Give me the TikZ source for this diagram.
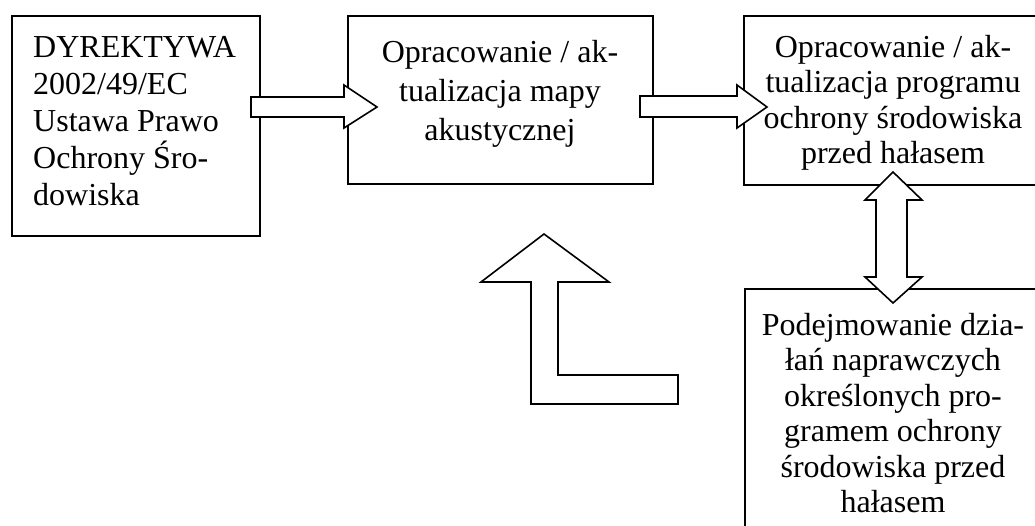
\documentclass[tikz,border=0pt]{standalone}
\usepackage{fontspec}
\setmainfont{Liberation Serif}
\begin{document}
\begin{tikzpicture}[x=1pt,y=-1pt,
  box/.style={draw, line width=1.6pt, inner sep=0pt, anchor=north west},
  txt/.style={inner sep=0pt, align=center, anchor=north},
  blockarrow/.style={draw, fill=white, line width=1.6pt, line join=miter}]
\useasboundingbox (0,0) rectangle (1035,525);
\clip (0,0) rectangle (1035,525);
\fill[white] (0,0) rectangle (1035,525);
% boxes
\node[box, minimum width=248pt, minimum height=220pt] (b1) at (11,15) {};
\node[box, minimum width=305pt, minimum height=168pt] (b2) at (347,15) {};
\node[box, minimum width=330pt, minimum height=169pt] (b3) at (743,15) {};
\node[box, minimum width=330pt, minimum height=270pt] (b4) at (744,288) {};
% block arrows
\draw[blockarrow] (251,97) -- (344,97) -- (344,85) -- (377,107) -- (344,128) -- (344,117) -- (251,117) -- cycle;
\draw[blockarrow] (640,96) -- (737,96) -- (737,85) -- (767,107) -- (737,128) -- (737,117) -- (640,117) -- cycle;
\draw[blockarrow] (893,172) -- (922,200) -- (907,200) -- (907,277) -- (922,277) -- (893,303) -- (865,277) -- (876,277) -- (876,200) -- (865,200) -- cycle;
\draw[blockarrow] (544,234) -- (609,282) -- (558,282) -- (558,375) -- (678,375) -- (678,404) -- (531,404) -- (531,282) -- (481,282) -- cycle;
% texts
\node[txt, align=left, anchor=north west, font=\fontsize{32}{37}\selectfont] (t1) at (33,36)
  {DYREKTYWA\\2002/49/EC\\Ustawa Prawo\\Ochrony Śro-\\dowiska};
\node[txt, font=\fontsize{32}{39}\selectfont] (t2) at (500,40)
  {Opracowanie / ak-\\tualizacja mapy\\akustycznej};
\node[txt, font=\fontsize{32}{35.5}\selectfont] (t3) at (893,35)
  {Opracowanie / ak-\\tualizacja programu\\ochrony środowiska\\przed hałasem};
\node[txt, font=\fontsize{32}{35.5}\selectfont] (t4) at (893,313)
  {Podejmowanie dzia-\\łań naprawczych\\określonych pro-\\gramem ochrony\\środowiska przed\\hałasem};
\end{tikzpicture}
\end{document}
